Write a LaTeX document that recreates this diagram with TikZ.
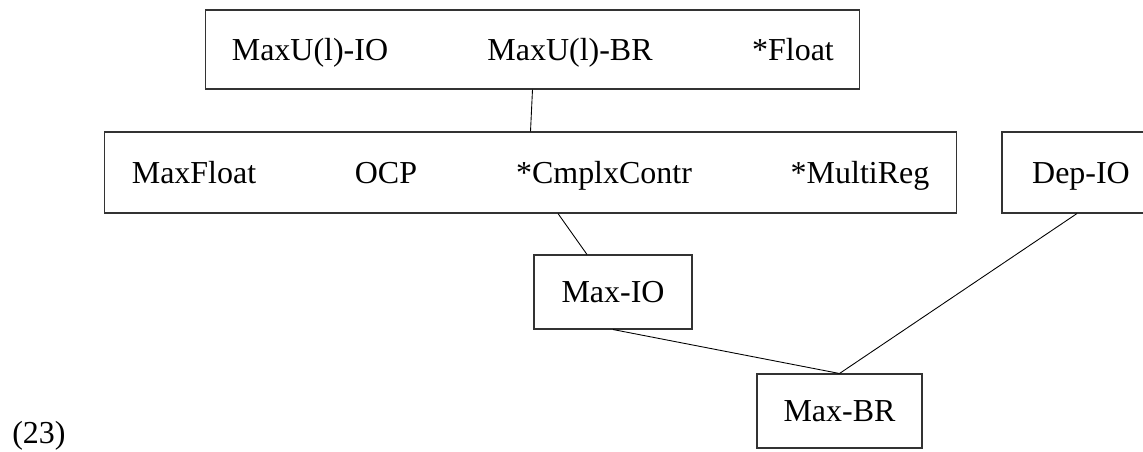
\documentclass[tikz,border=0pt]{standalone}
\usepackage{fontspec}
\setmainfont{Liberation Serif}
\usepackage{tikz}
\usetikzlibrary{positioning}

\begin{document}
\begin{tikzpicture}[x=0.02cm, y=-0.02cm,
    font=\fontsize{18.2}{22}\selectfont,
    box/.style={draw=black!80, line width=0.6pt, inner sep=0pt,
                text height=12pt, text depth=0pt},
    lbl/.style={inner sep=0pt, text height=12pt, text depth=0pt},
    link/.style={draw=black, line width=0.5pt}]
  \useasboundingbox (0,0) rectangle (1143,451);

  \node[box, minimum width=13.1cm, minimum height=1.58cm] (top) at (532.5,49.5) {};
  \node[lbl] (maxuio) at (310,49.5) {MaxU(l)-IO};
  \node[lbl] (maxubr) at (570,49.5) {MaxU(l)-BR};
  \node[lbl] (float) at (793,49.5) {*Float};

  \node[box, minimum width=17.06cm, minimum height=1.62cm] (mid) at (530.5,172.5) {};
  \node[lbl] (maxfloat) at (194,172.5) {MaxFloat};
  \node[lbl] (ocp) at (386,172.5) {OCP};
  \node[lbl] (cmplx) at (604,172.5) {*CmplxContr};
  \node[lbl] (multireg) at (860,172.5) {*MultiReg};

  \node[box, minimum width=3.16cm, minimum height=1.62cm] (depio) at (1081,172.5) {Dep-IO};
  \node[box, minimum width=3.16cm, minimum height=1.48cm] (maxio) at (613,292) {Max-IO};
  \node[box, minimum width=3.3cm, minimum height=1.48cm] (maxbr) at (839.5,411) {Max-BR};

  \node[anchor=base west, inner sep=0pt] (exnum) at (12,443) {(23)};

  \draw[link] (top.south) -- (mid.north);
  \draw[link] ([xshift=0.55cm]mid.south) -- ([xshift=-0.52cm]maxio.north);
  \draw[link] (maxio.south) -- (maxbr.north);
  \draw[link] ([xshift=-0.08cm]depio.south) -- (maxbr.north);
\end{tikzpicture}
\end{document}
